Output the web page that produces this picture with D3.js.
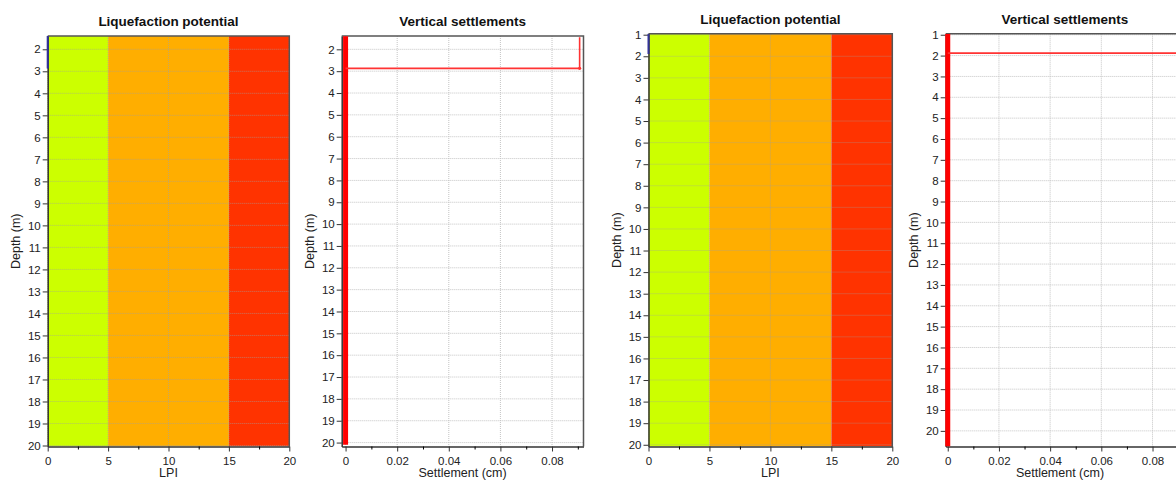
<!DOCTYPE html>
<html><head><meta charset="utf-8">
<script src="https://cdn.jsdelivr.net/npm/d3@7/dist/d3.min.js"></script>
<style>
html,body{margin:0;padding:0;background:#fff;}
svg{display:block;font-family:"Liberation Sans",Arial,sans-serif;}
</style></head><body>
<svg id="c" width="1176" height="481"></svg>
<script>
// ---------- data ----------
const lpiZoneBounds = [0, 5, 15, 20];
const lpiZoneNames = ["low", "high", "very high"];
const lpiTicks = [0, 5, 10, 15, 20];
const settleTicks = [0, 0.02, 0.04, 0.06, 0.08];
const settleTickLabels = ["0", "0.02", "0.04", "0.06", "0.08"];
const depthTicksA = [2,3,4,5,6,7,8,9,10,11,12,13,14,15,16,17,18,19,20];
const depthTicksB = [1,2,3,4,5,6,7,8,9,10,11,12,13,14,15,16,17,18,19,20];

// Site A
const lpiDepthA = [1.4, 2.87];
const lpiValueA = [0, 0];
const settleDepthA = [1.45, 2.87, 2.87];
const settleValueA = [0.0907, 0.0907, 0];
const settleBarDepthA = [1.4, 20.1];
const settleBarValueA = [0, 0];

// Site B
const lpiDepthB = [0.95, 1.9];
const lpiValueB = [0, 0];
const settleDepthB = [0.95, 1.88, 1.88];
const settleValueB = [0.096, 0.096, 0];
const settleBarDepthB = [0.95, 20.75];
const settleBarValueB = [0, 0];

// ---------- layout ----------
const zoneColors = ["#ccff00", "#ffae00", "#ff3300"];
const svg = d3.select("#c");
const defs = svg.append("defs");
let clipId = 0;

function panel(o) {
  const x = d3.scaleLinear().domain(o.xDomain).range([o.left, o.right]);
  const y = d3.scaleLinear().domain(o.yDomain).range([o.top, o.bottom]);
  const id = "clip" + (clipId++);
  defs.append("clipPath").attr("id", id).append("rect")
    .attr("x", o.left - 2).attr("y", o.top).attr("width", o.right - o.left + 2).attr("height", o.bottom - o.top);
  const g = svg.append("g");
  const plot = g.append("g").attr("clip-path", `url(#${id})`);
  plot.append("rect").attr("x", o.left).attr("y", o.top).attr("width", o.right - o.left)
    .attr("height", o.bottom - o.top).attr("fill", "#fff");
  if (o.zones) {
    lpiZoneNames.forEach((n, i) => {
      plot.append("rect")
        .attr("x", x(lpiZoneBounds[i])).attr("y", o.top)
        .attr("width", x(lpiZoneBounds[i + 1]) - x(lpiZoneBounds[i]))
        .attr("height", o.bottom - o.top).attr("fill", zoneColors[i]);
    });
  }
  // grid
  const gridColor = o.zones ? "#a0a0a0" : "#c4c4c4";
  const gridOp = o.zones ? 0.6 : 1;
  o.yTicks.forEach(t => {
    plot.append("line").attr("x1", o.left).attr("x2", o.right).attr("y1", y(t)).attr("y2", y(t))
      .attr("stroke", gridColor).attr("stroke-opacity", gridOp).attr("stroke-dasharray", "1,1");
  });
  o.xTicks.forEach(t => {
    plot.append("line").attr("x1", x(t)).attr("x2", x(t)).attr("y1", o.top).attr("y2", o.bottom)
      .attr("stroke", gridColor).attr("stroke-opacity", gridOp).attr("stroke-dasharray", "1,1");
  });
  // frame (top & right)
  g.append("path").attr("d", `M${o.left},${o.top}H${o.right}V${o.bottom}`)
    .attr("fill", "none").attr("stroke", "#555").attr("stroke-width", 1.5);
  // axes
  const xAxis = d3.axisBottom(x).tickValues(o.xTicks).tickSize(5).tickSizeOuter(0)
    .tickFormat((d, i) => o.xLabels[i]);
  const gx = g.append("g").attr("transform", `translate(0,${o.bottom})`).call(xAxis);
  const minor = [];
  for (let i = 0; i < o.xTicks.length - 1; i++) minor.push((o.xTicks[i] + o.xTicks[i + 1]) / 2);
  if (o.xMinorEnd) minor.push(o.xMinorEnd);
  g.append("g").attr("transform", `translate(0,${o.bottom})`)
    .call(d3.axisBottom(x).tickValues(minor.filter(v => x(v) <= o.right)).tickSize(3).tickSizeOuter(0).tickFormat(""))
    .call(a => a.select(".domain").remove());
  const yAxis = d3.axisLeft(y).tickValues(o.yTicks).tickSize(5).tickSizeOuter(0);
  const gy = g.append("g").attr("transform", `translate(${o.left},0)`).call(yAxis);
  [gx, gy].forEach(a => {
    a.select(".domain").attr("stroke", "#333").attr("stroke-width", 1.5);
    a.selectAll(".tick line").attr("stroke", "#333");
    a.selectAll(".tick text").attr("fill", "#222").attr("font-size", "11.5px");
  });
  gx.selectAll(".tick text").attr("dy", "0.9em");
  gy.selectAll(".tick text").attr("x", -7);
  // data (drawn above axes, clipped to plot)
  const line = d3.line().x(d => x(d[0])).y(d => y(d[1]));
  const dataG = g.append("g").attr("clip-path", `url(#${id})`);
  o.series.forEach(s => {
    dataG.append("path").datum(d3.zip(s.v, s.d)).attr("d", line)
      .attr("fill", "none").attr("stroke", s.color).attr("stroke-width", s.w);
    if (s.dot) {
      dataG.append("circle").attr("cx", x(s.v[s.dot])).attr("cy", y(s.d[s.dot])).attr("r", 1.6).attr("fill", s.color);
    }
  });
  // titles
  g.append("text").attr("x", (o.left + o.right) / 2).attr("y", o.top - 10)
    .attr("text-anchor", "middle").attr("font-weight", "bold").attr("font-size", "13.5px").attr("fill", "#111")
    .text(o.title);
  g.append("text").attr("x", o.xTitleX !== undefined ? o.xTitleX : (o.left + o.right) / 2).attr("y", o.bottom + 30)
    .attr("text-anchor", "middle").attr("font-size", "12.5px").attr("fill", "#222").text(o.xTitle);
  g.append("text").attr("transform", `translate(${o.left - 28},${(o.top + o.bottom) / 2}) rotate(-90)`)
    .attr("text-anchor", "middle").attr("font-size", "12.5px").attr("fill", "#222").text("Depth (m)");
}

panel({
  left: 47.7, right: 289.3, top: 36, bottom: 446.5,
  xDomain: [0, 20], yDomain: [1.396, 20.045],
  xTicks: lpiTicks, xLabels: lpiTicks.map(String), yTicks: depthTicksA,
  zones: true, title: "Liquefaction potential", xTitle: "LPI",
  series: [{ v: lpiValueA, d: lpiDepthA, color: "#333399", w: 2 }]
});
panel({
  left: 341.7, right: 583.5, top: 36, bottom: 446.5,
  xDomain: [-0.0015, 0.0922], yDomain: [1.39, 20.18],
  xTicks: settleTicks, xLabels: settleTickLabels, yTicks: depthTicksA, xMinorEnd: 0.09,
  zones: false, title: "Vertical settlements", xTitle: "Settlement (cm)",
  series: [
    { v: settleBarValueA, d: settleBarDepthA, color: "#ff0000", w: 5 },
    { v: settleValueA, d: settleDepthA, color: "#ff3333", w: 1.6, dot: 1 }
  ]
});
panel({
  left: 648.5, right: 892.3, top: 33.7, bottom: 446.5,
  xDomain: [0, 20], yDomain: [0.954, 20.08],
  xTicks: lpiTicks, xLabels: lpiTicks.map(String), yTicks: depthTicksB,
  zones: true, title: "Liquefaction potential", xTitle: "LPI",
  series: [{ v: lpiValueB, d: lpiDepthB, color: "#333399", w: 2 }]
});
panel({
  left: 945.7, right: 1184, top: 33.7, bottom: 446.5,
  xDomain: [-0.0008, 0.0923], yDomain: [0.95, 20.75],
  xTicks: settleTicks, xLabels: settleTickLabels, yTicks: depthTicksB, xMinorEnd: 0.09,
  zones: false, title: "Vertical settlements", xTitle: "Settlement (cm)", xTitleX: 1060,
  series: [
    { v: settleBarValueB, d: settleBarDepthB, color: "#ff0000", w: 5 },
    { v: settleValueB, d: settleDepthB, color: "#ff3333", w: 1.6 }
  ]
});
</script>
</body></html>
